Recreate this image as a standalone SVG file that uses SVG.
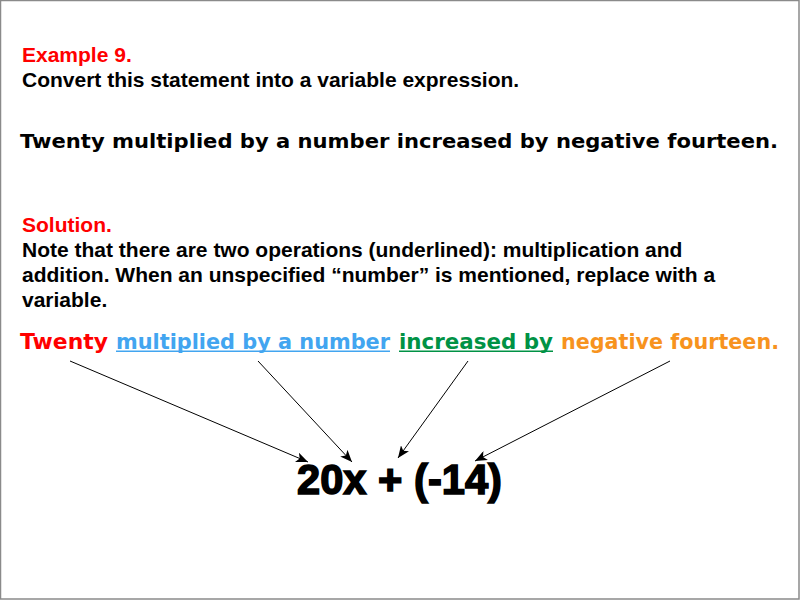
<svg xmlns="http://www.w3.org/2000/svg" width="800" height="600" viewBox="0 0 800 600">
<style>
.ab{font-family:"Liberation Sans",Arial,sans-serif;font-weight:bold;font-size:21px}
.hv{font-family:"DejaVu Sans","Liberation Sans",sans-serif;font-weight:bold}
.red{fill:#FF0000}
.blk{fill:#000000}
.conn line{stroke:#000;stroke-width:1;marker-end:url(#ah)}
</style>
<defs>
<marker id="ah" viewBox="0 0 12 10" refX="12" refY="5" markerWidth="12" markerHeight="10" markerUnits="userSpaceOnUse" orient="auto">
<path d="M0,0 L12,5 L0,10 L3,5 z" fill="#000"/>
</marker>
</defs>
<rect x="0" y="0" width="800" height="600" fill="#fff"/>
<rect x="0.5" y="0.5" width="798.5" height="598.5" fill="none" stroke="#8a8a8a" stroke-width="1.5"/>
<g id="header">
<text class="ab red" x="22" y="62">Example 9.</text>
<text class="ab blk" x="22" y="87">Convert this statement into a variable expression.</text>
</g>
<g id="statement">
<text class="hv blk" x="20" y="148" font-size="20" textLength="758" lengthAdjust="spacingAndGlyphs">Twenty multiplied by a number increased by negative fourteen.</text>
</g>
<g id="solution">
<text class="ab red" x="22" y="232">Solution.</text>
<text class="ab blk" x="22" y="257">Note that there are two operations (underlined): multiplication and</text>
<text class="ab blk" x="22" y="282">addition. When an unspecified “number” is mentioned, replace with a</text>
<text class="ab blk" x="22" y="307">variable.</text>
</g>
<g id="phrase">
<text class="hv" x="20" y="349" font-size="22" fill="#FF0000" textLength="88" lengthAdjust="spacingAndGlyphs">Twenty</text>
<text class="hv" x="116" y="349" font-size="22" fill="#42A5F0" textLength="274" lengthAdjust="spacingAndGlyphs">multiplied by a number</text>
<rect x="116" y="350.5" width="274" height="1.5" fill="#42A5F0"/>
<text class="hv" x="399" y="349" font-size="22" fill="#009245" textLength="154" lengthAdjust="spacingAndGlyphs">increased by</text>
<rect x="399" y="350.5" width="154" height="1.5" fill="#009245"/>
<text class="hv" x="561" y="349" font-size="22" fill="#F7931E" textLength="218" lengthAdjust="spacingAndGlyphs">negative fourteen.</text>
</g>
<g id="expression">
<text x="297" y="494" font-family="'Liberation Sans',Arial,sans-serif" font-weight="bold" font-size="43" fill="#000" stroke="#000" stroke-width="1.6" textLength="205" lengthAdjust="spacingAndGlyphs">20x + (-14)</text>
</g>
<g id="connectors" class="conn">
<line x1="70" y1="361" x2="308" y2="462"/>
<line x1="258" y1="361" x2="352" y2="462"/>
<line x1="468" y1="361" x2="398" y2="458"/>
<line x1="670" y1="361" x2="475" y2="461"/>
</g>
</svg>
